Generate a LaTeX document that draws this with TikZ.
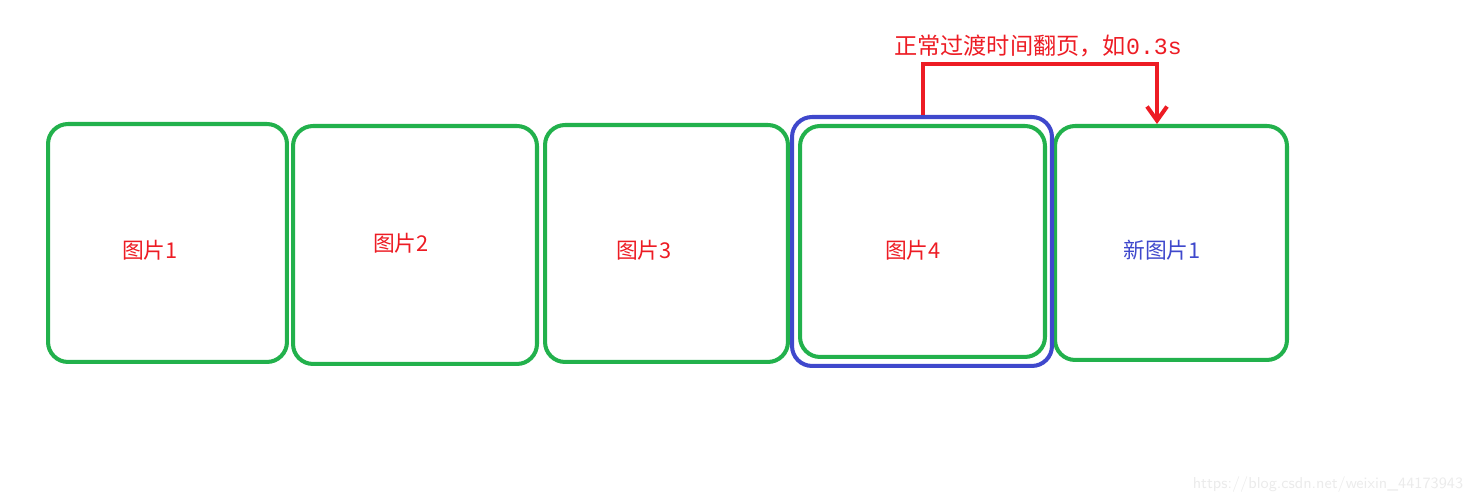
\documentclass[tikz,border=0pt]{standalone}
\usepackage{fontspec}
\usepackage{tikz}
\usetikzlibrary{arrows.meta}
\newfontfamily\cjk{Noto Sans CJK SC}
\newfontfamily\monofont{Liberation Mono}
\definecolor{paintgreen}{RGB}{34,177,76}
\definecolor{paintblue}{RGB}{63,72,204}
\definecolor{paintred}{RGB}{237,28,36}
\tikzset{picbox/.style={draw=paintgreen,line width=2.3pt,rounded corners=0.4cm,inner sep=0pt}}
\tikzset{piclabel/.style={font=\cjk\fontsize{12.4}{14}\selectfont,inner sep=0pt}}

\begin{document}
\begin{tikzpicture}[x=0.02cm,y=-0.02cm]
\useasboundingbox (0,0) rectangle (1475,502);

% Green picture boxes
\node[picbox,minimum width=4.78cm,minimum height=4.76cm] at (167.5,243) (b1) {};
\node[picbox,minimum width=4.88cm,minimum height=4.76cm] at (415,245) (b2) {};
\node[picbox,minimum width=4.86cm,minimum height=4.74cm] at (666.5,243.5) (b3) {};
\node[picbox,minimum width=4.90cm,minimum height=4.62cm] at (922.5,241.5) (b4) {};
\node[picbox,minimum width=4.64cm,minimum height=4.68cm] at (1171,243) (b5) {};

% Blue frame round picture 4
\node[picbox,draw=paintblue,minimum width=5.20cm,minimum height=4.98cm] at (922,241.5) (frame) {};

% Labels
\node[piclabel,text=paintred] at (150,250) (t1) {图片1};
\node[piclabel,text=paintred] at (401,243) (t2) {图片2};
\node[piclabel,text=paintred] at (644,250) (t3) {图片3};
\node[piclabel,text=paintred] at (913,250) (t4) {图片4};
\node[piclabel,text=paintblue] at (1162,250) (t5) {新图片1};

% Page-turn arrow from the frame to the new picture
\coordinate (up) at (923,64);
\coordinate (down) at (1157,64);
\draw[paintred,line width=2.3pt,-{Straight Barb[length=0.28cm,width=0.4cm,line width=2.3pt]}]
  (up |- frame.north) -- (up) -- (down) -- (down |- b5.north);
\node[piclabel,text=paintred,font=\cjk\fontsize{13.2}{15}\selectfont] at (1038,46) (note) {正常过渡时间翻页，如{\monofont 0.3s}};

% Watermark
\node[font=\sffamily\fontsize{9}{10}\selectfont,text=black!8,inner sep=0pt] at (1328,485) (mark) {https://blog.csdn.net/weixin\_44173943};
\end{tikzpicture}
\end{document}
